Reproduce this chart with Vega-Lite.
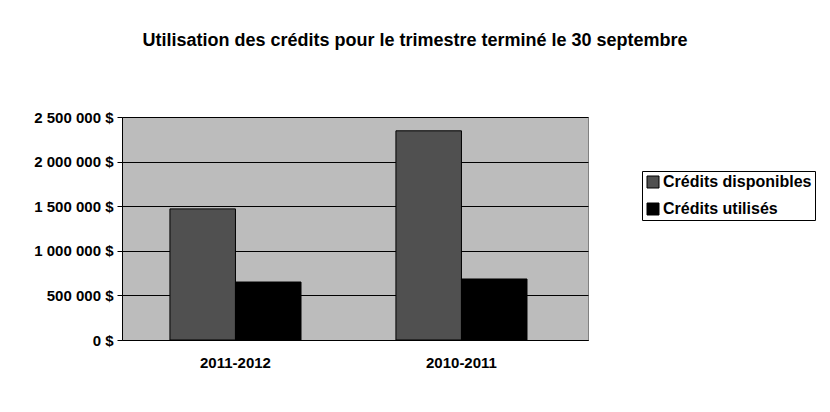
{
  "$schema": "https://vega.github.io/schema/vega-lite/v6.json",
  "autosize": {"type": "none"},
  "width": 466,
  "height": 223,
  "padding": {"left": 122, "top": 117, "right": 242, "bottom": 72},
  "background": "white",
  "title": {
    "text": "Utilisation des crédits pour le trimestre terminé le 30 septembre",
    "font": "Liberation Sans",
    "fontSize": 18,
    "fontWeight": "bold",
    "color": "black",
    "anchor": "middle",
    "dx": 60,
    "offset": 60
  },
  "data": {
    "values": [
      {"annee": "2011-2012", "serie": "Crédits disponibles", "montant": 1470000},
      {"annee": "2011-2012", "serie": "Crédits utilisés", "montant": 650000},
      {"annee": "2010-2011", "serie": "Crédits disponibles", "montant": 2345000},
      {"annee": "2010-2011", "serie": "Crédits utilisés", "montant": 684000}
    ]
  },
  "mark": {"type": "bar", "stroke": "black", "strokeWidth": 1},
  "encoding": {
    "x": {
      "field": "annee",
      "type": "nominal",
      "sort": ["2011-2012", "2010-2011"],
      "scale": {"paddingInner": 0.42, "paddingOuter": 0.241, "align": 0.44},
      "axis": {
        "title": null,
        "labelAngle": 0,
        "ticks": false,
        "domainColor": "black",
        "labelFont": "Liberation Sans",
        "labelFontSize": 15,
        "labelFontWeight": "bold",
        "labelColor": "black",
        "labelPadding": 15
      }
    },
    "xOffset": {"field": "serie", "type": "nominal", "sort": ["Crédits disponibles", "Crédits utilisés"], "scale": {"paddingInner": 0}},
    "y": {
      "field": "montant",
      "type": "quantitative",
      "scale": {"domain": [0, 2500000], "nice": false},
      "axis": {
        "title": null,
        "values": [0, 500000, 1000000, 1500000, 2000000, 2500000],
        "labelExpr": "replace(format(datum.value, ','), /,/g, ' ') + ' $'",
        "grid": true,
        "gridColor": "black",
        "gridOpacity": 1,
        "tickColor": "black",
        "tickSize": 5,
        "domainColor": "black",
        "labelFont": "Liberation Sans",
        "labelFontSize": 15,
        "labelFontWeight": "bold",
        "labelColor": "black",
        "labelPadding": 4
      }
    },
    "color": {
      "field": "serie",
      "type": "nominal",
      "sort": ["Crédits disponibles", "Crédits utilisés"],
      "scale": {"range": ["#505050", "#000000"]},
      "legend": {
        "title": null,
        "orient": "none",
        "legendX": 520,
        "legendY": 54,
        "symbolType": "square",
        "symbolSize": 144,
        "symbolStrokeColor": "black",
        "symbolStrokeWidth": 1,
        "labelFont": "Liberation Sans",
        "labelFontSize": 16,
        "labelFontWeight": "bold",
        "labelColor": "black",
        "labelOffset": 2,
        "rowPadding": 11,
        "strokeColor": "black",
        "padding": 3
      }
    }
  },
  "config": {
    "view": {"fill": "#bcbcbc", "stroke": "#808080", "strokeWidth": 1}
  }
}
